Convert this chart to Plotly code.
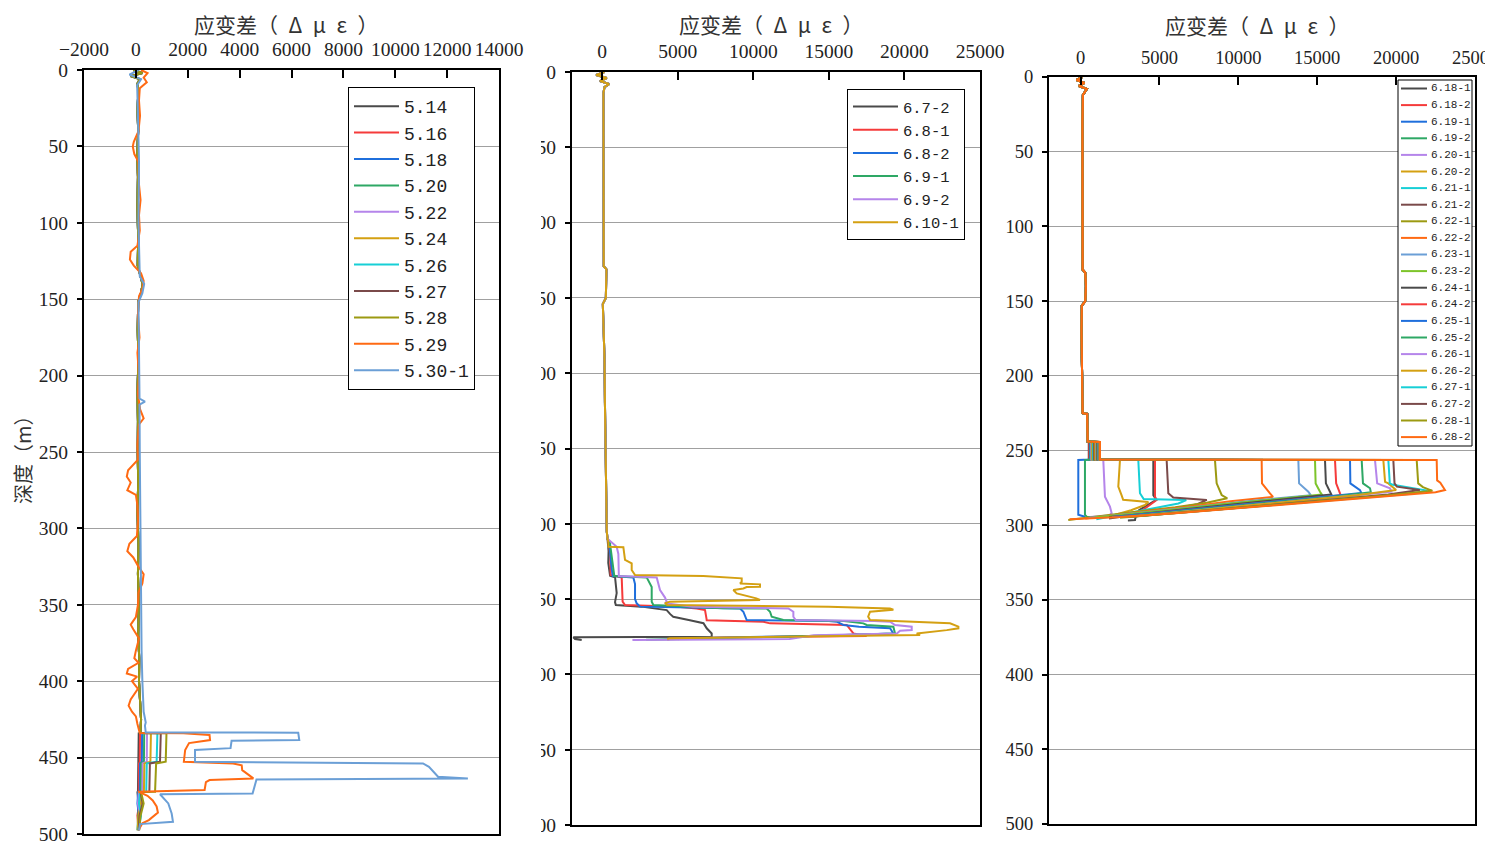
import plotly.graph_objects as go

# page is rendered with an 8px body margin: figure occupies page pixels 8..1493 / 8..844
OFF = 8
W, H = 1493 - OFF, 844 - OFF

# ---------------- Panel 1 : 5.14 ... 5.30-1 ----------------
P1_NAMES = ['5.14', '5.16', '5.18', '5.20', '5.22', '5.24', '5.26', '5.27', '5.28', '5.29', '5.30-1']

# shared near-zero trunk (depth, strain) for 5.14 .. 5.28
P1_TRUNK = [(0, -100), (2, 250), (4, -200), (6, 150), (9, 60), (14, 100), (25, 60), (40, 90), (55, 50),
            (70, 80), (90, 60), (110, 90), (128, 70), (134, 180), (140, 260), (146, 200), (152, 90),
            (170, 70), (190, 100), (210, 60), (230, 80), (250, 70), (270, 90), (290, 60), (310, 100),
            (330, 80), (350, 110), (370, 90), (385, 130), (400, 120), (415, 170), (425, 200), (433, 180)]
P1_TAIL_DEPTH = [433.9, 434.1, 452.7, 453.8, 472.3, 472.5, 480, 488, 497.5]
P1_TAIL_514 = [180, 110, 100, 90, 80, 60, 100, 80, 120]
P1_TAIL_516 = [180, 160, 150, 120, 110, 80, 130, 60, 100]
P1_TAIL_518 = [180, 240, 230, 160, 150, 90, 60, 120, 80]
P1_TAIL_520 = [180, 320, 310, 200, 190, 110, 150, 90, 60]
P1_TAIL_522 = [180, 430, 420, 260, 250, 120, 80, 150, 100]
P1_TAIL_524 = [180, 580, 560, 330, 310, 140, 200, 100, 70]
P1_TAIL_526 = [180, 830, 800, 420, 400, 160, 120, 200, 90]
P1_TAIL_527 = [180, 960, 930, 540, 520, 180, 260, 140, 110]
P1_TAIL_528 = [180, 1180, 1150, 780, 740, 200, 300, 180, 130]

P1_S529 = [(0, 200), (2, 450), (5, 300), (8, 420), (12, 150), (20, 120), (30, 160), (40, 100), (47, -80),
           (50, -120), (55, -60), (60, 100), (75, 120), (85, 180), (95, 120), (105, 150), (115, 60),
           (119, -200), (124, -230), (128, -80), (133, 200), (138, 300), (143, 260), (148, 120), (160, 80),
           (175, 140), (185, 60), (200, 120), (212, 80), (222, 160), (228, 300), (232, 120), (245, 60),
           (255, 80), (262, -300), (266, -350), (270, -200), (275, -330), (278, 0), (285, 60), (295, 80),
           (305, 40), (310, -250), (315, -330), (319, -100), (325, 100), (330, 300), (336, 250), (342, 100),
           (350, 80), (358, 0), (363, -200), (366, -100), (372, 120), (380, 0), (385, -60), (388, 100),
           (392, -300), (395, -350), (397, 50), (400, -150), (405, 80), (412, -200), (416, -280),
           (420, -150), (423, 0), (428, 60), (433.9, 150), (434.1, 1830), (435.2, 2840), (438.5, 2860),
           (439.6, 2300), (440.5, 2050), (445, 1900), (452.7, 1850), (453.8, 3750), (455, 4080),
           (458.2, 4100), (463.6, 4530), (464.7, 2840), (466, 2700), (471.2, 2650), (472.3, 100),
           (475, 450), (478, 650), (482, 800), (486, 850), (490.9, 500), (493, 250), (497.5, 100)]

P1_S530 = [(0, 100), (3, -250), (6, 200), (10, 50), (30, 80), (60, 120), (100, 100), (135, 150), (140, 320),
           (146, 250), (152, 100), (180, 130), (215, 140), (217, 350), (219, 140), (250, 150), (300, 170),
           (340, 180), (380, 220), (400, 250), (420, 300), (427, 380), (429, 350), (433.5, 380),
           (433.7, 6260), (438.5, 6300), (439, 3690), (443.8, 3650), (445, 2280), (452.7, 2280),
           (453.8, 11070), (456, 11300), (462.5, 11650), (463.6, 12800), (464.3, 4650), (473.5, 4500),
           (474, 930), (480, 1250), (486.6, 1380), (492, 1430), (493.5, 160), (497.6, 120)]

# ---------------- Panel 2 : 6.7-2 ... 6.10-1 ----------------
P2_NAMES = ['6.7-2', '6.8-1', '6.8-2', '6.9-1', '6.9-2', '6.10-1']
P2_TRUNK = [(0, 150), (2, -400), (4, 300), (6, -150), (8, 450), (10, 150), (14, 80), (40, 80), (80, 90),
            (110, 100), (129, 100), (131, 280), (140, 260), (150, 240), (154, 40), (165, 80), (190, 150),
            (220, 180), (250, 220), (280, 250), (296, 280), (305, 300), (310, 350)]
P2_S1 = [(312, 380), (318, 420), (326, 400), (334.5, 520), (335.6, 850), (340, 900), (346, 957), (352, 847),
         (354, 900), (355, 2600), (356.2, 3600), (357.3, 4266), (360, 4500), (361.7, 4700), (364, 5800),
         (366, 6700), (369.4, 6914), (372.8, 7245), (375, 7245), (375.3, -1910), (376.5, -1800), (377.2, -1359)]
P2_S2 = [(312, 420), (320, 520), (334, 560), (335.6, 1288), (345, 1300), (351.7, 1350), (353.9, 1509),
         (355, 5000), (356.2, 6250), (357.3, 6803), (363, 6900), (364, 6914), (365, 10664), (366.1, 11105),
         (367.2, 16179), (372.8, 16620), (374.5, 17500), (375.5, 8000), (376.5, 4500), (377, 4300)]
P2_S3 = [(312, 450), (330, 627), (334.7, 700), (335.6, 2060), (340, 2171), (350, 2171), (352.8, 2280),
         (355, 2502), (355.5, 6000), (356.2, 9120), (358.4, 9340), (361.7, 9450), (363.9, 9561),
         (364.5, 15000), (365, 15517), (367.2, 15958), (368.3, 17000), (369.4, 19047), (372.8, 19267),
         (374.5, 14000), (376, 5149), (376.8, 5000)]
P2_S4 = [(312, 500), (330, 737), (334.7, 800), (335.6, 2943), (342, 3274), (351.7, 3274), (353.9, 3384),
         (356, 8000), (356.2, 10885), (358.4, 11105), (361.7, 11216), (363.9, 11988), (364.5, 16000),
         (366.1, 17282), (367.2, 17502), (368.3, 19267), (372.8, 19378), (375, 12000), (376.5, 3000), (377, 2900)]
P2_S5 = [(312, 600), (315.2, 957), (320, 1068), (330.7, 1068), (334.7, 1100), (335.6, 3605), (340, 3715),
         (344, 3825), (349, 4156), (351.7, 4266), (352.8, 4156), (355, 6000), (356.2, 12318), (358.4, 12649),
         (361.7, 12649), (363.9, 12800), (364.5, 18000), (365, 19047), (367.2, 19378), (368.3, 20481),
         (370.6, 20481), (371, 19709), (372.8, 19500), (374, 14000), (376.5, 12400), (376.8, 2060), (377.2, 2000)]
P2_S6 = [(312, 406), (315.2, 406), (315.5, 1399), (324, 1509), (326.3, 1950), (330.7, 1950), (334, 2171),
         (334.7, 6693), (335.6, 8899), (336.2, 9230), (338.5, 9230), (339.6, 9120), (340.2, 10443),
         (341.8, 10443), (342, 9561), (342.9, 9340), (344, 8678), (346.2, 8899), (349.5, 10200),
         (350.6, 10443), (351.7, 4487), (352.8, 4156), (354, 4300), (355, 15000), (356.2, 19047),
         (357, 19267), (358.4, 17723), (361.7, 17600), (363.9, 17723), (364.5, 19047), (366.1, 23017),
         (368.3, 23569), (369.4, 23569), (370.6, 22800), (372.8, 20812), (373.9, 21032), (375, 10000),
         (376, 4487), (376.5, 4300)]

# ---------------- Panel 3 : 6.18-1 ... 6.28-2 ----------------
P3_NAMES = ['6.18-1', '6.18-2', '6.19-1', '6.19-2', '6.20-1', '6.20-2', '6.21-1', '6.21-2',
            '6.22-1', '6.22-2', '6.23-1', '6.23-2', '6.24-1', '6.24-2', '6.25-1', '6.25-2',
            '6.26-1', '6.26-2', '6.27-1', '6.27-2', '6.28-1', '6.28-2']
P3_TRUNK = [(0, 100), (2, -250), (4, 250), (6, -100), (8, 400), (10, 250), (12, 150), (30, 120), (70, 110),
            (110, 120), (129, 130), (131, 300), (140, 340), (150, 300), (153, 80), (170, 60), (196, 100),
            (215, 110), (225, 130), (225.5, 420), (235, 440), (244, 450)]
P3_STEP = [520, 560, 600, 640, 680, 720, 780, 840, 900, 960, 1000, 1040,
           1070, 1100, 1120, 1140, 1160, 1180, 1200, 1210, 1220, 1230]
P3_PEAK = [4611, 4717, -143, 279, 1441, 2498, 3660, 5456, 8520, 11478, 13803, 14859,
           15493, 16127, 17078, 17817, 18662, 19190, 19507, 19824, 21304, 22572]
P3_LOWER = [
    [(280, 4611), (283, 4800), (286, 4300), (290, 3700), (294, 3500), (296.5, 3449), (296.8, 3000)],
    [(281, 4717), (283.1, 4822), (287, 4300), (290, 3900), (292.5, 3600)],
    [(293, -143), (294.3, 279)],
    [(293, 279), (294.3, 385), (294.6, 1000)],
    [(280.9, 1547), (287.6, 1864), (292, 1970), (293.5, 1800), (294.5, 600)],
    [(274.2, 2392), (280, 2603), (283, 2700), (284.5, 4294), (286.5, 4083), (290, 3200), (293, 2200), (294.5, 1500)],
    [(278.6, 3766), (282.5, 4000), (283.2, 6700), (285.5, 6200), (289, 4500), (292, 3000), (295, 1500), (296, 1000)],
    [(278.6, 5562), (281.5, 5879), (283.1, 8000), (286, 7400), (290, 5400), (293, 3500), (295.5, 1800)],
    [(272, 8626), (279.8, 8943), (282, 9300), (285, 8000), (288, 6000), (291, 3500), (294, 1200), (296.5, -780)],
    [(272, 11500), (278.7, 12006), (281, 12200), (284, 9500), (287.5, 7000), (291, 4000), (294.5, 1000), (295.5, 300)],
    [(272, 13850), (277.6, 14436), (280, 14600), (283, 11500), (287, 8000), (291, 4500), (294.5, 1200), (295, 500)],
    [(272, 14900), (277.6, 15177), (279.5, 15300), (282.5, 12500), (286, 9000), (290, 5500), (294, 2000), (294.8, 900)],
    [(272, 15550), (277.6, 15810), (279.5, 15900), (282, 13500), (285.5, 10000), (289.5, 6500), (293.5, 3000), (294.5, 1800)],
    [(272, 16200), (278.7, 16444), (280, 16500), (282.5, 14000), (286, 10500), (290, 6500), (293.5, 3000), (294.5, 2000)],
    [(272, 17100), (276.5, 17711), (278.5, 17800), (281.5, 15000), (285, 11500), (289, 7500), (293, 3500), (294.5, 2000)],
    [(272, 17900), (275.3, 18346), (278, 18400), (281, 16000), (284.5, 12500), (288.5, 8500), (292.5, 4500), (294.5, 2500)],
    [(272, 18800), (275.3, 19614), (277.5, 19700), (280.5, 17000), (284, 13500), (288, 9500), (292, 5500), (294.5, 3000)],
    [(271, 19300), (272, 19508), (276.5, 20000), (280, 17500), (283.5, 14000), (287.5, 10000), (291.5, 6000), (294.5, 3000)],
    [(272, 19600), (273, 19800), (277, 22000), (279, 21000), (282.5, 17000), (286.5, 12500), (290.5, 7500), (294, 3500)],
    [(272, 19900), (274.2, 20050), (276.5, 21500), (279.5, 19500), (283, 16000), (287, 11500), (291, 7000), (294.5, 3000)],
    [(272, 21400), (274.5, 21700), (277, 22300), (280, 19500), (283.5, 15500), (287.5, 11000), (291.5, 6500), (295, 2500)],
    [(270, 22600), (271.5, 22800), (276.5, 23100), (278, 22500), (281, 19000), (284.5, 15000), (288.5, 10500),
     (292, 6000), (294.5, 2500), (295.5, 500), (296, -700)],
]

PALETTE = ['#4a4a4a', '#f53b3b', '#1f6fdc', '#2ea865', '#b585ea', '#d4a012',
           '#17cfd6', '#7a4a4a', '#9c9a12', '#ff6a13', '#6b9fd6', '#7dc42a']

MONO = 'Liberation Mono'
CJK = 'Noto Sans CJK SC'
TICKFONT = 'Liberation Serif'


def fx(p):
    """page pixel -> paper fraction (x)"""
    return (p - OFF) / W


def fy(p):
    """page pixel -> paper fraction (y)"""
    return 1 - (p - OFF) / H


def unzip(pairs):
    return [p[1] for p in pairs], [p[0] for p in pairs]


fig = go.Figure()

# panel 1 traces
p1_tails = [P1_TAIL_514, P1_TAIL_516, P1_TAIL_518, P1_TAIL_520, P1_TAIL_522,
            P1_TAIL_524, P1_TAIL_526, P1_TAIL_527, P1_TAIL_528]
for i, tail in enumerate(p1_tails):
    xs, ys = unzip(P1_TRUNK)
    xs = xs + tail
    ys = ys + P1_TAIL_DEPTH
    fig.add_trace(go.Scatter(x=xs, y=ys, mode='lines', name=P1_NAMES[i],
                             line=dict(color=PALETTE[i], width=2),
                             xaxis='x', yaxis='y', legend='legend'))
for j, s in enumerate([P1_S529, P1_S530]):
    xs, ys = unzip(s)
    fig.add_trace(go.Scatter(x=xs, y=ys, mode='lines', name=P1_NAMES[9 + j],
                             line=dict(color=PALETTE[9 + j], width=2),
                             xaxis='x', yaxis='y', legend='legend'))

# panel 2 traces
for i, s in enumerate([P2_S1, P2_S2, P2_S3, P2_S4, P2_S5, P2_S6]):
    xs, ys = unzip(P2_TRUNK + s)
    fig.add_trace(go.Scatter(x=xs, y=ys, mode='lines', name=P2_NAMES[i],
                             line=dict(color=PALETTE[i], width=2),
                             xaxis='x2', yaxis='y2', legend='legend2'))

# panel 3 traces
for i, name in enumerate(P3_NAMES):
    pts = P3_TRUNK + [(244.3, P3_STEP[i]), (256.1, P3_STEP[i]), (256.4, P3_PEAK[i])] + P3_LOWER[i]
    xs, ys = unzip(pts)
    fig.add_trace(go.Scatter(x=xs, y=ys, mode='lines', name=name, showlegend=False,
                             line=dict(color=PALETTE[i % 12], width=2),
                             xaxis='x3', yaxis='y3'))


def xax(domain, rng, dtick, fs, anchor):
    return dict(domain=domain, range=rng, tick0=0, dtick=dtick, side='top', anchor=anchor,
                automargin=False, tickformat='d', ticklabeloverflow='allow', tickangle=0,
                showline=True, linecolor='black', linewidth=2, mirror=True,
                ticks='inside', ticklen=8, tickwidth=1.5, tickcolor='black',
                showgrid=False, zeroline=False, ticklabelstandoff=4,
                tickfont=dict(family=TICKFONT, size=fs, color='#222'))


def yax(domain, fs, anchor):
    return dict(domain=domain, range=[500, 0], tick0=0, dtick=50, anchor=anchor,
                automargin=False, tickformat='d', ticklabeloverflow='allow',
                showline=True, linecolor='black', linewidth=2, mirror=True,
                ticks='outside', ticklen=5, tickwidth=1.5, tickcolor='black',
                showgrid=True, gridcolor='#a0a0a0', gridwidth=1, zeroline=False,
                ticklabelstandoff=5,
                tickfont=dict(family=TICKFONT, size=fs, color='#222'))


shapes = []
annotations = []

# mask that clips panel-2 depth labels like the reference
shapes.append(dict(type='rect', xref='paper', yref='paper', layer='above',
                   x0=fx(502), x1=fx(541), y0=fy(844), y1=fy(64),
                   fillcolor='white', line=dict(width=0)))

# manual legend for panel 3
shapes.append(dict(type='rect', xref='paper', yref='paper', layer='above',
                   x0=fx(1398), x1=fx(1472), y0=fy(446), y1=fy(80),
                   fillcolor='white', line=dict(color='black', width=1)))
for i, name in enumerate(P3_NAMES):
    yc = 88.5 + i * 16.6
    shapes.append(dict(type='line', xref='paper', yref='paper', layer='above',
                       x0=fx(1401), x1=fx(1427), y0=fy(yc), y1=fy(yc),
                       line=dict(color=PALETTE[i % 12], width=2)))
    annotations.append(dict(xref='paper', yref='paper', x=fx(1430), y=fy(yc), xanchor='left',
                            yanchor='middle', text=name, showarrow=False, borderpad=0,
                            font=dict(family=MONO, size=11, color='#222')))

TITLE = '应变差（\u2002Δ\u2002μ\u2002ε\u2002）'
for xc, ytop in [(286, 8), (771, 8), (1257, 9)]:
    annotations.append(dict(xref='paper', yref='paper', x=fx(xc), y=fy(ytop), xanchor='center',
                            yanchor='top', text=TITLE, showarrow=False, borderpad=0,
                            font=dict(family=CJK, size=21, color='#333')))
annotations.append(dict(xref='paper', yref='paper', x=fx(22), y=fy(455), xanchor='center',
                        yanchor='middle', text='深度（m）', textangle=-90, showarrow=False,
                        font=dict(family=CJK, size=20, color='#333')))

fig.update_layout(
    width=W, height=H, margin=dict(l=0, r=0, t=0, b=0, pad=0, autoexpand=False),
    paper_bgcolor='white', plot_bgcolor='white',
    xaxis=xax([fx(84), fx(499)], [-2000, 14000], 2000, 19.5, 'y'),
    yaxis=yax([fy(834), fy(70)], 19.5, 'x'),
    xaxis2=xax([fx(572), fx(980)], [-2000, 25000], 5000, 19.5, 'y2'),
    yaxis2=yax([fy(825), fy(72)], 19.5, 'x2'),
    xaxis3=xax([fx(1049), fx(1475)], [-2000, 25000], 5000, 18.5, 'y3'),
    yaxis3=yax([fy(824), fy(77)], 18.5, 'x3'),
    legend=dict(x=fx(348), y=fy(87), xanchor='left', yanchor='top', bgcolor='white',
                bordercolor='black', borderwidth=1, itemwidth=45,
                font=dict(family=MONO, size=18, color='#222')),
    legend2=dict(x=fx(847), y=fy(89), xanchor='left', yanchor='top', bgcolor='white',
                 bordercolor='black', borderwidth=1, itemwidth=45,
                 font=dict(family=MONO, size=15.5, color='#222')),
    shapes=shapes, annotations=annotations, hovermode=False,
)

fig.write_html('out.html')
